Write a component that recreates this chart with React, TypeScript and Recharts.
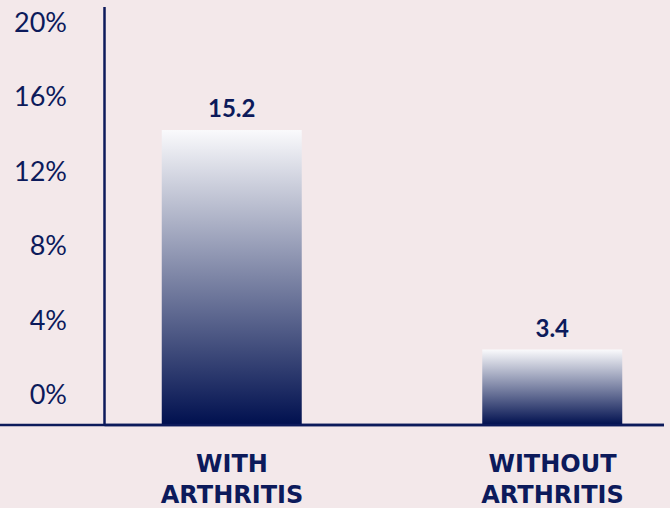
import React from "react";
import { BarChart, Bar, XAxis, YAxis, LabelList, Customized, usePlotArea } from "recharts";

const categories = ["WITH ARTHRITIS", "WITHOUT ARTHRITIS"];
const values = [15.2, 3.4];
const yTicks = [0, 4, 8, 12, 16, 20];

const Y_MIN = -0.65;
const Y_MAX = 21.8;

const NAVY = "#0c1a5b";
const BG = "#f3e8ea";

const data = categories.map((name, i) => ({ name, value: values[i] }));

const YTick = (props: any) => {
  const { x, y, payload } = props;
  return (
    <text
      x={x}
      y={y}
      dy={-8.5}
      textAnchor="end"
      fill={NAVY}
      fontFamily="Lato, 'Noto Sans', sans-serif"
      fontSize={27}
    >
      {payload.value}%
    </text>
  );
};

const XTick = (props: any) => {
  const { x, y, payload } = props;
  const words = String(payload.value).split(" ");
  return (
    <text
      x={x}
      y={y}
      textAnchor="middle"
      fill={NAVY}
      fontFamily="'DejaVu Sans', sans-serif"
      fontWeight="bold"
      fontSize={24}
    >
      {words.map((w, i) => (
        <tspan key={i} x={x} dy={i === 0 ? 47 : 31}>
          {w}
        </tspan>
      ))}
    </text>
  );
};

const AxisExtension = () => {
  const area = usePlotArea ? usePlotArea() : undefined;
  if (!area) return null;
  const yb = area.y + area.height;
  return <line x1={0} x2={area.x + area.width} y1={yb} y2={yb} stroke={NAVY} strokeWidth={2.6} />;
};

export default function App() {
  return (
    <div
      style={{
        position: "absolute",
        left: 0,
        top: 0,
        width: 670,
        height: 508,
        background: BG,
      }}
    >
      <BarChart
        width={670}
        height={508}
        data={data}
        margin={{ top: 7, right: 6, bottom: 0, left: 0 }}
      >
        <defs>
          <linearGradient id="barGrad" x1="0" y1="0" x2="0" y2="1">
            <stop offset="0%" stopColor="#fafafc" />
            <stop offset="100%" stopColor="#00104f" />
          </linearGradient>
        </defs>
        <XAxis
          dataKey="name"
          height={83}
          padding={{ left: -32.75, right: -48.75 }}
          axisLine={{ stroke: NAVY, strokeWidth: 2.6 }}
          tickLine={false}
          tickSize={0}
          tickMargin={0}
          tick={<XTick />}
          interval={0}
        />
        <YAxis
          type="number"
          width={104.5}
          domain={[Y_MIN, Y_MAX]}
          allowDataOverflow
          ticks={yTicks}
          axisLine={{ stroke: NAVY, strokeWidth: 2.5 }}
          tickLine={false}
          tickSize={0}
          tickMargin={37.5}
          tick={<YTick />}
          interval={0}
        />
        <Bar
          dataKey={(d: any) => [Y_MIN, d.value]}
          barSize={140}
          fill="url(#barGrad)"
          isAnimationActive={false}
        >
          <LabelList
            dataKey="value"
            position="top"
            offset={13}
            fill={NAVY}
            fontFamily="Lato, 'Noto Sans', sans-serif"
            fontWeight="bold"
            fontSize={24}
          />
        </Bar>
        <Customized component={<AxisExtension />} />
      </BarChart>
    </div>
  );
}
